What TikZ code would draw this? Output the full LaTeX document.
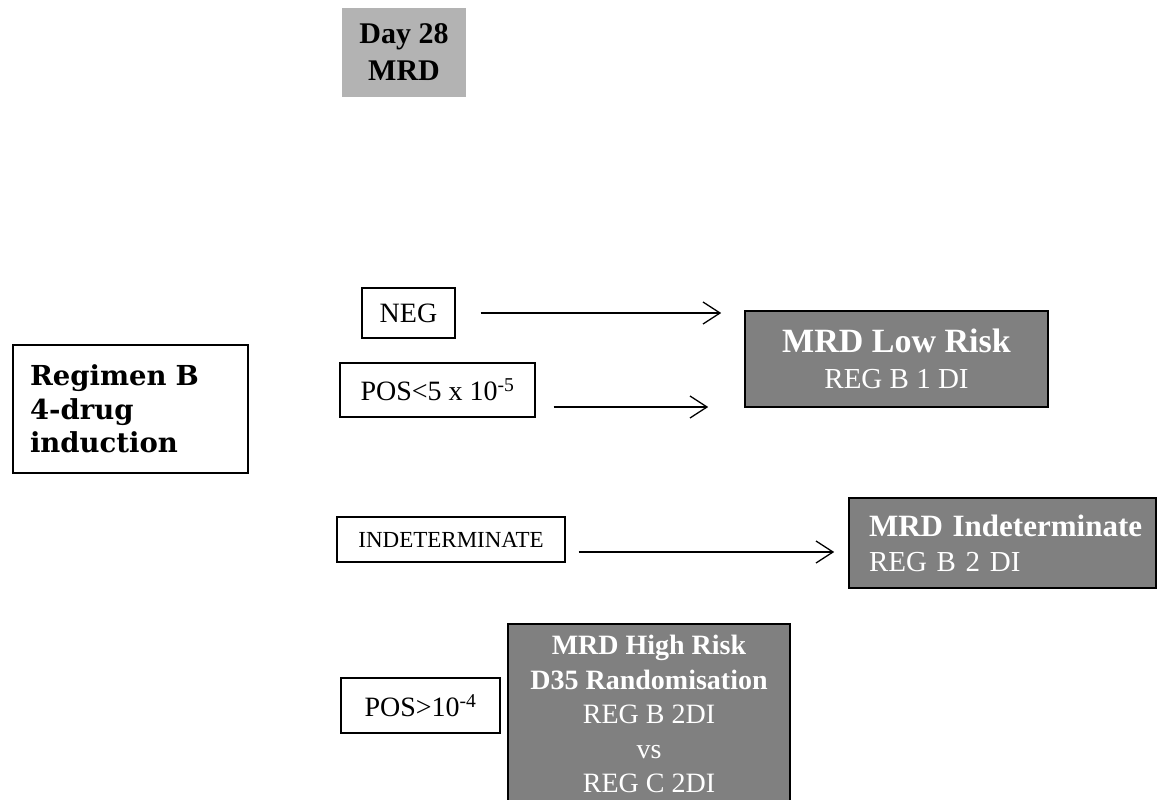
\documentclass[tikz,border=0pt]{standalone}
\usepackage{fontspec}
\setmainfont{Liberation Serif}
\newfontfamily\heavyserif{DejaVu Serif}
\usetikzlibrary{arrows.meta}
\definecolor{boxgray}{HTML}{808080}
\definecolor{headgray}{HTML}{B3B3B3}
\begin{document}
\begin{tikzpicture}[x=1pt,y=-1pt,
  whitebox/.style={draw=black, line width=1.3pt, fill=white, inner sep=0pt,
    align=center, font=\fontsize{28}{33}\selectfont},
  darkbox/.style={draw=black, line width=1.6pt, fill=boxgray, text=white, inner sep=0pt},
  arr/.style={line width=1.3pt,
    -{Straight Barb[length=17pt,width=22pt,line width=1.3pt]}}
]
\clip (0,0) rectangle (1157,800);
\fill[white] (0,0) rectangle (1157,800);

% heading
\node[fill=headgray, minimum width=124pt, minimum height=89pt, inner sep=0pt,
  align=center, font=\bfseries\fontsize{30}{37}\selectfont] (day) at (404,52.5) {Day 28\\MRD};

% treatment box
\node[draw=black, line width=1.3pt, minimum width=235pt, minimum height=128pt,
  inner xsep=17pt, inner ysep=0pt, text width=201pt, align=left,
  font=\heavyserif\bfseries\fontsize{27.5}{33.5}\selectfont] (reg) at (130.5,409)
  {Regimen B\\4-drug\\induction};

% MRD results
\node[whitebox, minimum width=93pt, minimum height=50pt] (neg) at (408.5,313) {NEG};
\node[whitebox, minimum width=195pt, minimum height=54pt] (pos) at (437.5,390)
  {POS<5 x 10\textsuperscript{-5}};
\node[whitebox, minimum width=228pt, minimum height=45pt,
  font=\fontsize{23}{28}\selectfont] (ind) at (451,539.5) {INDETERMINATE};
\node[whitebox, minimum width=159pt, minimum height=55pt] (posb) at (420.5,705.5)
  {POS>10\textsuperscript{-4}};

% risk groups
\node[darkbox, minimum width=303pt, minimum height=96pt, align=center,
  font=\fontsize{29}{36}\selectfont] (low) at (896.5,359)
  {{\bfseries\fontsize{34}{36}\selectfont MRD Low Risk}\\REG B 1 DI};
\node[darkbox, minimum width=307pt, minimum height=90pt, inner xsep=20pt,
  text width=267pt, align=left, font=\fontsize{29}{35}\selectfont] (indr) at (1002.5,543)
  {{\bfseries\fontsize{31}{35}\selectfont\mbox{MRD Indeterminate}}\\REG B 2 DI};
\node[darkbox, minimum width=282pt, minimum height=181pt, anchor=north, align=center,
  font=\fontsize{28}{34.5}\selectfont] (high) at (649,623)
  {{\bfseries MRD High Risk}\\{\bfseries D35 Randomisation}\\REG B 2DI\\vs\\REG C 2DI};

% arrows
\draw[arr, shorten >=23pt] ([xshift=25pt]neg.east) -- (neg.east -| low.west);
\coordinate (posA) at ([shift={(18,17)}]pos.east);
\draw[arr, shorten >=36pt] (posA) -- (posA -| low.west);
\coordinate (indA) at ([shift={(13,12.5)}]ind.east);
\draw[arr, shorten >=14pt] (indA) -- (indA -| indr.west);
\end{tikzpicture}
\end{document}
